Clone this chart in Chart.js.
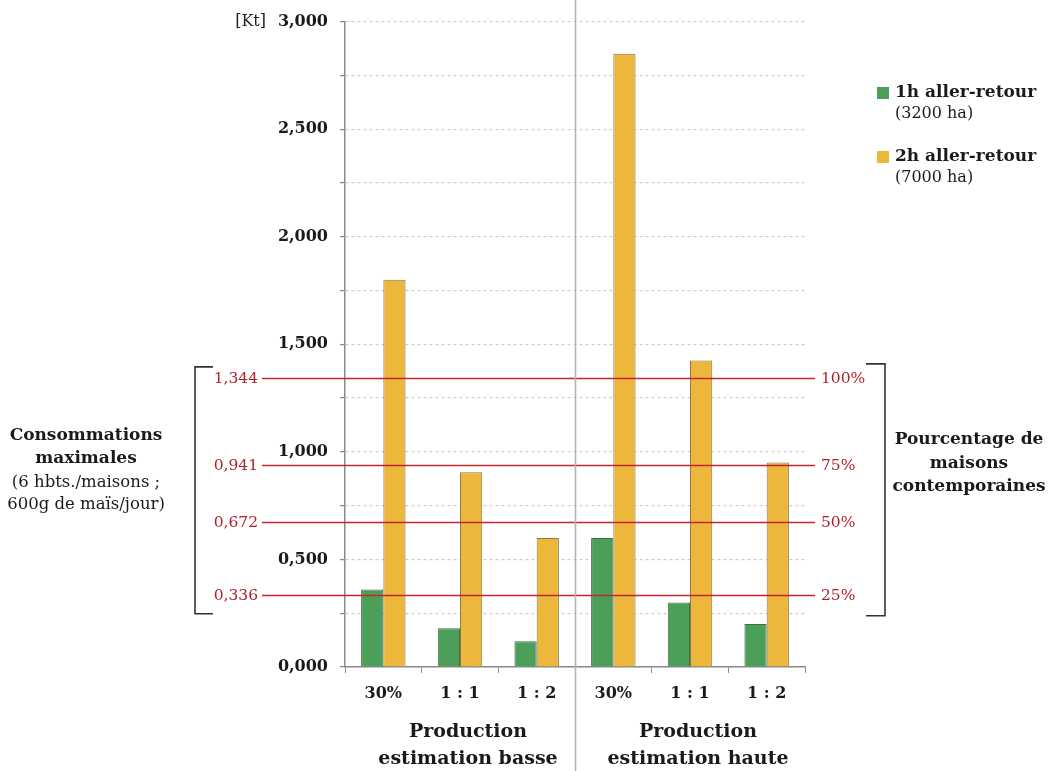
<!DOCTYPE html>
<html><head><meta charset="utf-8">
<script src="https://cdn.jsdelivr.net/npm/chart.js@4"></script>
<style>html,body{margin:0;padding:0;background:#fff;} canvas{display:block;}</style>
</head><body>
<canvas id="c" width="1054" height="771"></canvas>
<script>
const categories = ['30%', '1 : 1', '1 : 2', '30%', '1 : 1', '1 : 2'];
const groupLabels = [['Production', 'estimation basse'], ['Production', 'estimation haute']];
const series1h = [0.36, 0.18, 0.12, 0.60, 0.30, 0.20];
const series2h = [1.80, 0.905, 0.60, 2.85, 1.425, 0.95];
const seriesNames = ['1h aller-retour', '2h aller-retour'];
const seriesSub = ['(3200 ha)', '(7000 ha)'];
const thresholds = [1.344, 0.941, 0.672, 0.336];
const thresholdPct = ['100%', '75%', '50%', '25%'];
const leftNote = ['Consommations', 'maximales', '(6 hbts./maisons ;', '600g de maïs/jour)'];
const rightNote = ['Pourcentage de', 'maisons', 'contemporaines'];
const unitLabel = '[Kt]';

const FONT = '"DejaVu Serif", "Liberation Serif", serif';
const GREEN = '#4c9f59';
const YELLOW = '#ecb73b';
const RED_LINE = '#c0262b';
const RED_TXT = '#b0232c';
const fmt = v => v.toFixed(3).replace('.', ',');

const overlay = {
  id: 'overlay',
  afterDatasetsDraw(chart) {
    const {ctx, scales: {x, y}, chartArea} = chart;
    ctx.save();
    thresholds.forEach((t, i) => {
      const py = Math.round(y.getPixelForValue(t)) + 0.5;
      ctx.strokeStyle = RED_LINE;
      ctx.lineWidth = 1.3;
      ctx.beginPath();
      ctx.moveTo(262, py);
      ctx.lineTo(chartArea.right + 10, py);
      ctx.stroke();
      ctx.fillStyle = RED_TXT;
      ctx.font = '15.5px ' + FONT;
      ctx.textBaseline = 'middle';
      ctx.textAlign = 'right';
      ctx.fillText(fmt(t), 258, py);
      ctx.textAlign = 'left';
      ctx.fillText(thresholdPct[i], chartArea.right + 16, py);
    });
    ctx.restore();
  },
  afterDraw(chart) {
    const {ctx, scales: {x, y}, chartArea} = chart;
    ctx.save();
    const divX = Math.round((x.getPixelForValue(2) + x.getPixelForValue(3)) / 2) + 0.5;
    ctx.strokeStyle = '#b4b4b4';
    ctx.lineWidth = 1.6;
    ctx.beginPath();
    ctx.moveTo(divX, 0);
    ctx.lineTo(divX, chart.height);
    ctx.stroke();

    ctx.fillStyle = '#222';
    ctx.font = '16px ' + FONT;
    ctx.textAlign = 'right';
    ctx.textBaseline = 'middle';
    ctx.fillText(unitLabel, 266, y.getPixelForValue(3));

    ctx.font = 'bold 19px ' + FONT;
    ctx.textAlign = 'center';
    ctx.fillStyle = '#1a1a1a';
    [[0, 2], [3, 5]].forEach((g, i) => {
      const cx = (x.getPixelForValue(g[0]) + x.getPixelForValue(g[1])) / 2 + 8;
      ctx.fillText(groupLabels[i][0], cx, 732);
      ctx.fillText(groupLabels[i][1], cx, 759);
    });

    const yTop = y.getPixelForValue(thresholds[0]);
    const yBot = y.getPixelForValue(thresholds[3]);
    ctx.strokeStyle = '#333';
    ctx.lineWidth = 1.6;
    ctx.beginPath();
    ctx.moveTo(213, yTop - 11); ctx.lineTo(195, yTop - 11); ctx.lineTo(195, yBot + 19); ctx.lineTo(213, yBot + 19);
    ctx.stroke();
    ctx.beginPath();
    ctx.moveTo(866, yTop - 14); ctx.lineTo(885, yTop - 14); ctx.lineTo(885, yBot + 21); ctx.lineTo(866, yBot + 21);
    ctx.stroke();

    ctx.fillStyle = '#1a1a1a';
    ctx.textAlign = 'center';
    ctx.font = 'bold 17px ' + FONT;
    ctx.fillText(leftNote[0], 86, 436);
    ctx.fillText(leftNote[1], 86, 459);
    ctx.font = '16.5px ' + FONT;
    ctx.fillText(leftNote[2], 86, 483);
    ctx.fillText(leftNote[3], 86, 505);

    ctx.font = 'bold 17px ' + FONT;
    rightNote.forEach((t, i) => ctx.fillText(t, 969, 440 + i * 23.5));

    const colors = [GREEN, YELLOW];
    const ly = [93, 157];
    ctx.textAlign = 'left';
    seriesNames.forEach((n, i) => {
      ctx.fillStyle = colors[i];
      ctx.fillRect(877, ly[i] - 6, 12, 12);
      ctx.fillStyle = '#1a1a1a';
      ctx.font = 'bold 17px ' + FONT;
      ctx.fillText(n, 895, ly[i]);
      ctx.font = '16px ' + FONT;
      ctx.fillText(seriesSub[i], 895, ly[i] + 21);
    });
    ctx.restore();
  }
};

new Chart(document.getElementById('c'), {
  type: 'bar',
  data: {
    labels: categories,
    datasets: [
      {label: seriesNames[0], data: series1h, backgroundColor: GREEN, borderColor: '#4a6a45', borderWidth: 1},
      {label: seriesNames[1], data: series2h, backgroundColor: YELLOW, borderColor: '#8a7a48', borderWidth: 1}
    ]
  },
  options: {
    responsive: false,
    animation: false,
    layout: {padding: {left: 0, right: 249, top: 20, bottom: 0}},
    datasets: {bar: {categoryPercentage: 0.58, barPercentage: 1.0}},
    plugins: {legend: {display: false}, tooltip: {enabled: false}},
    scales: {
      x: {
        afterFit: s => { s.height = 104; },
        grid: {drawOnChartArea: false, drawTicks: true, tickLength: 6, color: '#8a8a8a', offset: true},
        border: {color: '#8a8a8a', width: 1.5},
        ticks: {color: '#1a1a1a', font: {family: FONT, size: 16, weight: 'bold'}, padding: 11, maxRotation: 0}
      },
      y: {
        min: 0, max: 3,
        afterFit: s => { s.width = 345; },
        grid: {color: '#cdcdcd', lineWidth: 1.2, tickLength: 5, tickColor: '#8a8a8a', tickWidth: 1.3},
        border: {color: '#8a8a8a', width: 1.5, dash: [3, 3]},
        ticks: {
          stepSize: 0.25, autoSkip: false, padding: 12, color: '#1a1a1a',
          font: {family: FONT, size: 16, weight: 'bold'},
          callback: v => (Math.abs(v * 2 - Math.round(v * 2)) < 1e-6) ? fmt(v) : ''
        }
      }
    }
  },
  plugins: [overlay]
});
</script>
</body></html>
